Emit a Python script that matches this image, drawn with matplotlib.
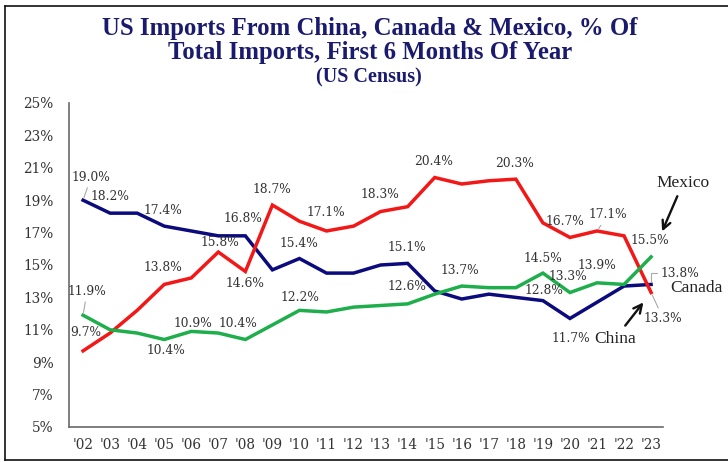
import matplotlib
import matplotlib.pyplot as plt
from matplotlib.lines import Line2D

matplotlib.use('Agg')

# Share of total US imports, first half of each year (%)
years = list(range(2002, 2024))
year_labels = ["'" + str(y)[2:] for y in years]
canada = [19.0, 18.2, 18.2, 17.4, 17.1, 16.8, 16.8, 14.7, 15.4, 14.5, 14.5,
          15.0, 15.1, 13.4, 12.9, 13.2, 13.0, 12.8, 11.7, 12.7, 13.7, 13.8]
china = [9.7, 10.8, 12.2, 13.8, 14.2, 15.8, 14.6, 18.7, 17.7, 17.1, 17.4,
         18.3, 18.6, 20.4, 20.0, 20.2, 20.3, 17.6, 16.7, 17.1, 16.8, 13.3]
mexico = [11.9, 11.0, 10.8, 10.4, 10.9, 10.8, 10.4, 11.3, 12.2, 12.1, 12.4,
          12.5, 12.6, 13.2, 13.7, 13.6, 13.6, 14.5, 13.3, 13.9, 13.8, 15.5]
y_ticks = list(range(5, 26, 2))

series = {'canada': canada, 'china': china, 'mexico': mexico}
colors = {'canada': '#0b0b7d', 'china': '#f21818', 'mexico': '#1fae4c'}

# Value labels: (series, year, x offset px, y offset px (down), leader style)
value_labels = [
    ('canada', 2002, 8, -23, 'line'),
    ('canada', 2003, 0, -17, None),
    ('canada', 2005, -1, -16, None),
    ('canada', 2008, -2, -17, None),
    ('canada', 2010, -1, -15, None),
    ('canada', 2014, -1, -16, None),
    ('canada', 2019, 1, -10, None),
    ('canada', 2020, 1, 20, None),
    ('canada', 2023, 29, -11, 'bracket'),
    ('china', 2002, 3, -18, None),
    ('china', 2005, -1, -17, None),
    ('china', 2007, 2, -10, None),
    ('china', 2008, 0, 12, None),
    ('china', 2009, 0, -16, None),
    ('china', 2011, -1, -18, None),
    ('china', 2013, -1, -17, None),
    ('china', 2015, -1, -16, None),
    ('china', 2018, -1, -16, None),
    ('china', 2020, -5, -16, None),
    ('china', 2021, 11, -16, 'line'),
    ('china', 2023, 12, 26, 'line'),
    ('mexico', 2002, 4, -24, 'line'),
    ('mexico', 2005, 2, 11, None),
    ('mexico', 2006, 2, -8, None),
    ('mexico', 2008, -7, -16, None),
    ('mexico', 2010, 1, -13, None),
    ('mexico', 2014, -1, -17, None),
    ('mexico', 2016, -2, -16, None),
    ('mexico', 2019, 0, -15, None),
    ('mexico', 2020, -2, -16, None),
    ('mexico', 2021, 0, -17, None),
    ('mexico', 2023, -1, -16, None),
]

PT = 0.72  # pixels -> points at 100 dpi
label_font = 'DejaVu Serif'
name_font = 'Liberation Serif'

fig = plt.figure(figsize=(7.28, 4.62), dpi=100)
ax = fig.add_axes([69 / 728, 1 - 427 / 462, (663 - 69) / 728, (427 - 103) / 462])

for key in ['canada', 'china', 'mexico']:
    ax.plot(years, series[key], color=colors[key], lw=2.5, solid_joinstyle='miter',
            zorder=3)

for key, year, dx, dy, leader in value_labels:
    val = series[key][years.index(year)]
    props = None
    if leader == 'line':
        props = dict(arrowstyle='-', color='#a8a8a8', lw=0.8, shrinkA=1, shrinkB=2)
    elif leader == 'bracket':
        props = dict(arrowstyle='-', color='#a8a8a8', lw=0.8, shrinkA=1, shrinkB=2,
                     connectionstyle='angle,angleA=0,angleB=90,rad=0')
    ax.annotate('%.1f%%' % val, xy=(year, val), xytext=(dx * PT, -dy * PT),
                textcoords='offset points', ha='center', va='center',
                fontsize=8.8, family=label_font, color='#333333',
                arrowprops=props, zorder=4)

# Series names with arrows
ax.annotate('Mexico', xy=(2023, mexico[-1]), xytext=(32 * PT, 74 * PT),
            textcoords='offset points', ha='center', va='center',
            fontsize=12.5, family=name_font, color='#222222',
            arrowprops=dict(arrowstyle='->', color='#111111', lw=1.7,
                            mutation_scale=15, shrinkA=2, shrinkB=20))
ax.annotate('Canada', xy=(2023, canada[-1]), xytext=(45 * PT, -4 * PT),
            textcoords='offset points', ha='center', va='center',
            fontsize=12.5, family=name_font, color='#222222')
ax.annotate('China', xy=(2023, china[-1]), xytext=(-36 * PT, -46 * PT),
            textcoords='offset points', ha='center', va='center',
            fontsize=12.5, family=name_font, color='#222222',
            arrowprops=dict(arrowstyle='->', color='#111111', lw=1.7,
                            mutation_scale=15, shrinkA=2, shrinkB=9))

ax.set_xlim(2001.48, 2023.44)
ax.set_ylim(5, 25)
ax.set_yticks(y_ticks)
ax.set_yticklabels(['%d%%' % t for t in y_ticks], family=label_font,
                   fontsize=9.8, color='#333333')
ax.set_xticks(years)
ax.set_xticklabels(year_labels, family=label_font, fontsize=9.8, color='#333333')
ax.tick_params(axis='y', length=0, pad=11)
ax.tick_params(axis='x', length=0, pad=8)
for side in ['top', 'right']:
    ax.spines[side].set_visible(False)
for side in ['left', 'bottom']:
    ax.spines[side].set_color('#6a6a6a')
    ax.spines[side].set_linewidth(1.2)

# Title block
title_color = '#1a1a6e'
fig.text(370 / 728, 1 - 29 / 462, 'US Imports From China, Canada & Mexico, % Of',
         ha='center', va='center', fontsize=17.8, weight='bold',
         family=name_font, color=title_color)
fig.text(370 / 728, 1 - 53 / 462, 'Total Imports, First 6 Months Of Year',
         ha='center', va='center', fontsize=17.8, weight='bold',
         family=name_font, color=title_color)
fig.text(369 / 728, 1 - 77 / 462, '(US Census)', ha='center', va='center',
         fontsize=14.5, weight='bold', family=name_font, color=title_color)

# Outer frame
fig.add_artist(Line2D([4.5 / 728, 4.5 / 728], [1 - 6 / 462, 1 - 460 / 462],
                      color='#111111', lw=1.2))
fig.add_artist(Line2D([4.5 / 728, 1], [1 - 6 / 462, 1 - 6 / 462],
                      color='#111111', lw=1.2))
fig.add_artist(Line2D([4.5 / 728, 1], [1 - 460 / 462, 1 - 460 / 462],
                      color='#111111', lw=1.2))

fig.savefig('out.png', dpi=100)
